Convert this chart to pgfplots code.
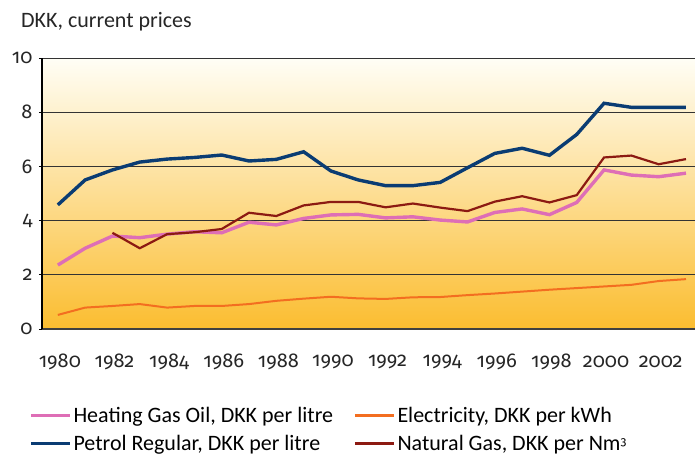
\documentclass[border=0pt]{standalone}
\usepackage{fontspec}
\setmainfont{Carlito}
\newfontfamily\numfont{Fira Sans}[Numbers=OldStyle]
\usepackage{pgfplots}
\pgfplotsset{compat=1.18}
\definecolor{petrol}{RGB}{10,60,115}
\definecolor{heating}{RGB}{222,110,182}
\definecolor{gas}{RGB}{140,26,18}
\definecolor{elec}{RGB}{243,110,32}
\definecolor{bgtop}{RGB}{255,254,246}
\definecolor{bgmid}{RGB}{254,226,150}
\definecolor{bgbot}{RGB}{251,189,48}
\newcommand{\lf}{\fontsize{22}{26}\selectfont}
\newcommand{\tf}{\numfont\fontsize{20}{24}\selectfont}
\begin{document}
\begin{tikzpicture}
\begin{axis}[
  at={(0pt,0pt)}, anchor=south west,
  scale only axis, width=653pt, height=271pt,
  xmin=1979.42, xmax=2003.33, ymin=0, ymax=10,
  axis x line*=bottom, axis y line*=left,
  x axis line style={-, draw=black!75, line width=1.6pt},
  y axis line style={-, draw=black, line width=1.2pt},
  axis background/.style={shade, top color=bgtop, middle color=bgmid, bottom color=bgbot},
  ytick={0,2,4,6,8,10},
  yticklabels={{\tf 0},{\tf 2},{\tf 4},{\tf 6},{\tf 8},{\tf 10}},
  xtick={1980,1982,...,2002},
  xticklabels={{\tf 1980},{\tf 1982},{\tf 1984},{\tf 1986},{\tf 1988},{\tf 1990},{\tf 1992},{\tf 1994},{\tf 1996},{\tf 1998},{\tf 2000},{\tf 2002}},
  ymajorgrids, grid style={draw=black!80, line width=0.8pt},
  ytick style={draw=black, line width=0.8pt},
  tick align=outside, major tick length=3pt,
  xtick style={draw=none},
  tick label style={font=\tf, text=black!85},
  yticklabel style={xshift=-3pt},
  xticklabel style={anchor=center, yshift=-30pt, xshift=2pt},
  legend columns=2,
  legend style={draw=none, fill=none, font=\lf, at={(-0.02,-0.28)}, anchor=north west,
    inner sep=0pt, row sep=7pt,
    /tikz/every even column/.append style={column sep=18pt}},
  legend cell align=left,
  legend image code/.code={\draw[#1, line width=3.4pt] (0pt,0pt) -- (39pt,0pt);},
]
\addplot[heating, line width=3.4pt] coordinates {
(1980,2.36) (1981,2.98) (1982,3.43) (1983,3.37) (1984,3.50) (1985,3.59) (1986,3.55) (1987,3.94)
(1988,3.84) (1989,4.08) (1990,4.21) (1991,4.23) (1992,4.10) (1993,4.14) (1994,4.02) (1995,3.95)
(1996,4.30) (1997,4.43) (1998,4.22) (1999,4.67) (2000,5.87) (2001,5.68) (2002,5.62) (2003,5.75)};
\addlegendentry{Heating Gas Oil, DKK per litre}
\addplot[elec, line width=2pt] coordinates {
(1980,0.52) (1981,0.79) (1982,0.85) (1983,0.92) (1984,0.79) (1985,0.85) (1986,0.85) (1987,0.92)
(1988,1.04) (1989,1.12) (1990,1.19) (1991,1.13) (1992,1.11) (1993,1.17) (1994,1.18) (1995,1.25)
(1996,1.31) (1997,1.38) (1998,1.45) (1999,1.51) (2000,1.57) (2001,1.63) (2002,1.77) (2003,1.84)};
\addlegendentry{Electricity, DKK per kWh}
\addplot[petrol, line width=3.4pt] coordinates {
(1980,4.58) (1981,5.50) (1982,5.87) (1983,6.16) (1984,6.27) (1985,6.33) (1986,6.42) (1987,6.20)
(1988,6.26) (1989,6.54) (1990,5.83) (1991,5.50) (1992,5.29) (1993,5.29) (1994,5.41) (1995,5.95)
(1996,6.48) (1997,6.67) (1998,6.41) (1999,7.18) (2000,8.33) (2001,8.18) (2002,8.18) (2003,8.18)};
\addlegendentry{Petrol Regular, DKK per litre}
\addplot[gas, line width=2.2pt] coordinates {
(1982,3.55) (1983,2.98) (1984,3.50) (1985,3.57) (1986,3.69) (1987,4.29)
(1988,4.17) (1989,4.56) (1990,4.69) (1991,4.69) (1992,4.49) (1993,4.63) (1994,4.48) (1995,4.35)
(1996,4.70) (1997,4.90) (1998,4.67) (1999,4.94) (2000,6.33) (2001,6.40) (2002,6.08) (2003,6.27)};
\addlegendentry{Natural Gas, DKK per Nm{\numfont\fontsize{12}{14}\selectfont\raisebox{0.7ex}{3}}}
\end{axis}
\node[anchor=base west, font=\lf, text=black!85, inner sep=0pt] at (-21pt,302pt) {DKK, current prices};
\pgfresetboundingbox
\path[use as bounding box] (-42pt,-130pt) rectangle (653pt,329pt);
\end{tikzpicture}
\end{document}
